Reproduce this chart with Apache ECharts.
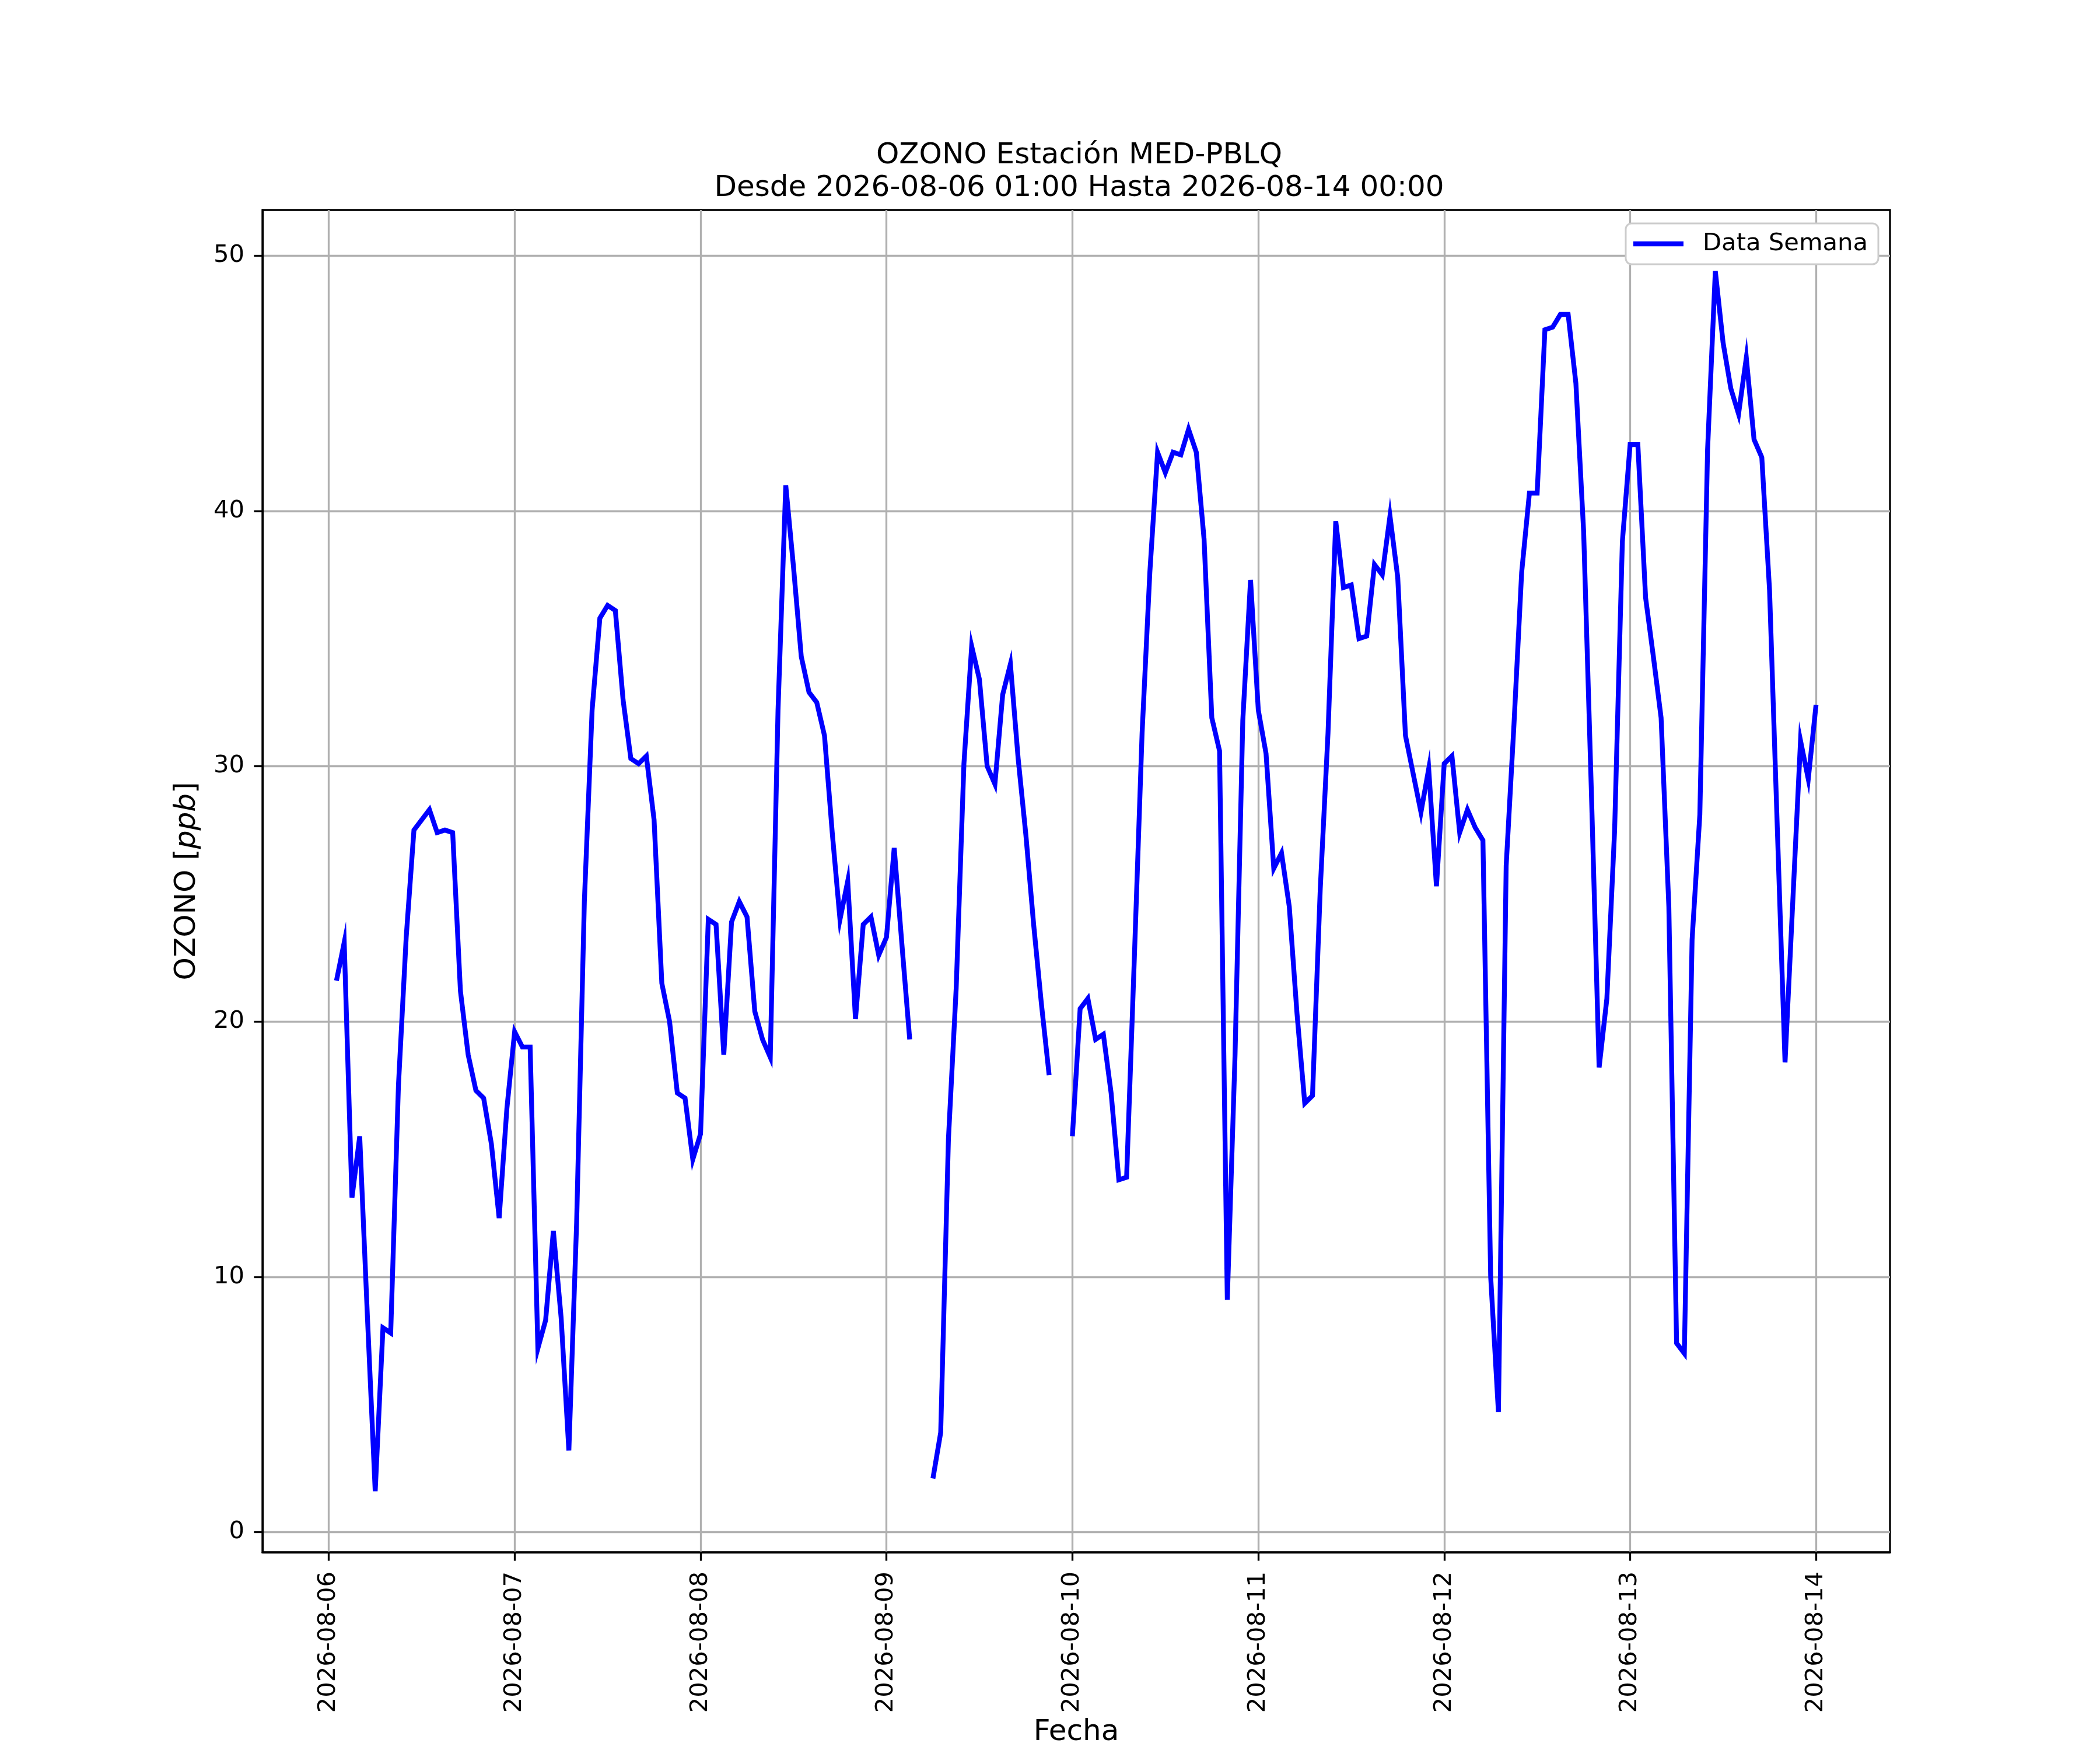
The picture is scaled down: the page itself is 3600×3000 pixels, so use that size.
<!DOCTYPE html>
<html>
<head>
    <meta charset="utf-8">
    <title>OZONO MED-PBLQ</title>
    <script type="text/javascript" src="https://cdn.jsdelivr.net/npm/echarts@6.0.0/dist/echarts.min.js"></script>
    <style>
        html, body { margin: 0; padding: 0; background: #fff; }
    </style>
</head>
<body>
<div id="main" style="width: 3600px;height:3000px;"></div>
<script type="text/javascript">

    // datos horarios desde 2026-08-06 01:00 (null = sin dato)
    var firstHour = 1; // horas desde 2026-08-06 00:00
    var ozono = [
        21.6, 23.1, 13.1, 15.5, 8.4, 1.6, 8.0, 7.8, 17.5, 23.3, 27.5, 27.9, 28.3, 27.4, 27.5, 27.4, 21.2, 18.7, 17.3, 17.0, 15.2, 12.3, 16.6, 19.6,
        19.0, 19.0, 7.2, 8.3, 11.8, 8.4, 3.2, 12.1, 24.7, 32.2, 35.8, 36.3, 36.1, 32.6, 30.3, 30.1, 30.4, 27.9, 21.5, 20.0, 17.2, 17.0, 14.6, 15.6,
        24.0, 23.8, 18.7, 23.9, 24.7, 24.1, 20.4, 19.3, 18.6, 32.2, 41.0, 37.8, 34.3, 32.9, 32.5, 31.2, 27.4, 24.0, 25.5, 20.1, 23.8, 24.1, 22.6, 23.3,
        26.8, 23.0, 19.3, null, null, 2.1, 3.9, 15.4, 21.3, 30.1, 34.7, 33.4, 30.0, 29.3, 32.8, 34.0, 30.3, 27.3, 23.8, 20.7, 17.9, null, null, 15.5,
        20.5, 20.9, 19.3, 19.5, 17.2, 13.8, 13.9, 22.5, 31.3, 37.6, 42.3, 41.5, 42.3, 42.2, 43.2, 42.3, 38.9, 31.9, 30.6, 9.1, 18.7, 31.8, 37.3, 32.2,
        30.5, 26.0, 26.6, 24.5, 20.3, 16.8, 17.1, 25.2, 31.3, 39.6, 37.0, 37.1, 35.0, 35.1, 37.9, 37.5, 39.8, 37.4, 31.2, 29.7, 28.2, 29.9, 25.3, 30.1,
        30.4, 27.4, 28.3, 27.6, 27.1, 10.0, 4.7, 26.1, 31.6, 37.6, 40.7, 40.7, 47.1, 47.2, 47.7, 47.7, 45.0, 39.2, 29.0, 18.2, 20.9, 27.5, 38.8, 42.6,
        42.6, 36.6, 34.3, 31.9, 24.5, 7.4, 7.0, 23.2, 28.1, 42.4, 49.4, 46.6, 44.8, 43.8, 46.0, 42.8, 42.1, 36.9, 27.6, 18.4, 24.7, 31.0, 29.5, 32.4
    ];
    var xTickLabels = ['2026-08-06', '2026-08-07', '2026-08-08', '2026-08-09', '2026-08-10',
        '2026-08-11', '2026-08-12', '2026-08-13', '2026-08-14'];
    var yTicks = [0, 10, 20, 30, 40, 50];

    var serie = ozono.map(function (v, i) {
        return [firstHour + i, v];
    });
    var xTicks = xTickLabels.map(function (d, i) { return i * 24; });

    // margenes tipo matplotlib (5%)
    var vals = ozono.filter(function (v) { return v !== null; });
    var xFirst = serie[0][0], xLast = serie[serie.length - 1][0];
    var xPad = (xLast - xFirst) * 0.05;
    var yMin = Math.min.apply(null, vals), yMax = Math.max.apply(null, vals);
    var yPad = (yMax - yMin) * 0.05;

    var font = 'DejaVu Sans';
    var myChart = echarts.init(document.getElementById('main'));

    var option = {
        backgroundColor: '#ffffff',
        animation: false,
        title: {
            text: 'OZONO Estación MED-PBLQ\nDesde 2026-08-06 01:00 Hasta 2026-08-14 00:00',
            left: 1845,
            top: 234,
            textAlign: 'center',
            textStyle: {
                fontFamily: font,
                fontWeight: 'normal',
                fontSize: 50,
                lineHeight: 56,
                color: '#000'
            }
        },
        legend: {
            data: ['Data Semana'],
            right: 380,
            top: 383,
            orient: 'vertical',
            icon: 'rect',
            backgroundColor: '#ffffff',
            borderColor: '#cccccc',
            borderWidth: 3,
            borderRadius: 10,
            padding: [14, 18, 14, 13],
            itemWidth: 86,
            itemHeight: 8.3,
            textStyle: {
                fontFamily: font,
                fontSize: 41.7,
                color: '#000',
                padding: [0, 0, 0, 28]
            }
        },
        grid: {
            left: 450,
            right: 360,
            top: 360,
            bottom: 330,
            show: true,
            borderColor: '#000',
            borderWidth: 3.3,
            backgroundColor: 'transparent'
        },
        xAxis: {
            type: 'value',
            min: xFirst - xPad,
            max: xLast + xPad,
            name: 'Fecha',
            nameLocation: 'middle',
            nameGap: 284,
            nameTextStyle: { fontFamily: font, fontSize: 50, color: '#000' },
            axisLine: { show: true, onZero: false, lineStyle: { color: '#000', width: 3.3 } },
            axisTick: {
                show: true,
                length: 14.6,
                lineStyle: { color: '#000', width: 3.3 },
                customValues: xTicks
            },
            axisLabel: {
                rotate: 90,
                margin: 33,
                fontFamily: font,
                fontSize: 41.7,
                color: '#000',
                customValues: xTicks,
                formatter: function (v) {
                    return xTickLabels[Math.round(v / 24)];
                }
            },
            splitLine: { show: true, lineStyle: { color: '#b0b0b0', width: 3.3 } }
        },
        yAxis: {
            type: 'value',
            min: yMin - yPad,
            max: yMax + yPad,
            name: 'OZONO [{i|ppb}]',
            nameLocation: 'middle',
            nameGap: 104,
            nameRotate: 90,
            nameTextStyle: {
                fontFamily: font,
                fontSize: 50,
                color: '#000',
                rich: {
                    i: { fontFamily: font, fontSize: 50, fontStyle: 'italic', color: '#000' }
                }
            },
            axisLine: { show: true, onZero: false, lineStyle: { color: '#000', width: 3.3 } },
            axisTick: {
                show: true,
                length: 14.6,
                lineStyle: { color: '#000', width: 3.3 },
                customValues: yTicks
            },
            axisLabel: {
                margin: 31,
                fontFamily: font,
                fontSize: 41.7,
                color: '#000',
                customValues: yTicks
            },
            splitLine: { show: true, lineStyle: { color: '#b0b0b0', width: 3.3 } }
        },
        series: [{
            name: 'Data Semana',
            type: 'line',
            data: serie,
            symbol: 'none',
            connectNulls: false,
            lineStyle: { color: '#0000ff', width: 8.3, join: 'miter' },
            itemStyle: { color: '#0000ff' },
            z: 3
        }]
    };

    myChart.setOption(option);
</script>
</body>
</html>
